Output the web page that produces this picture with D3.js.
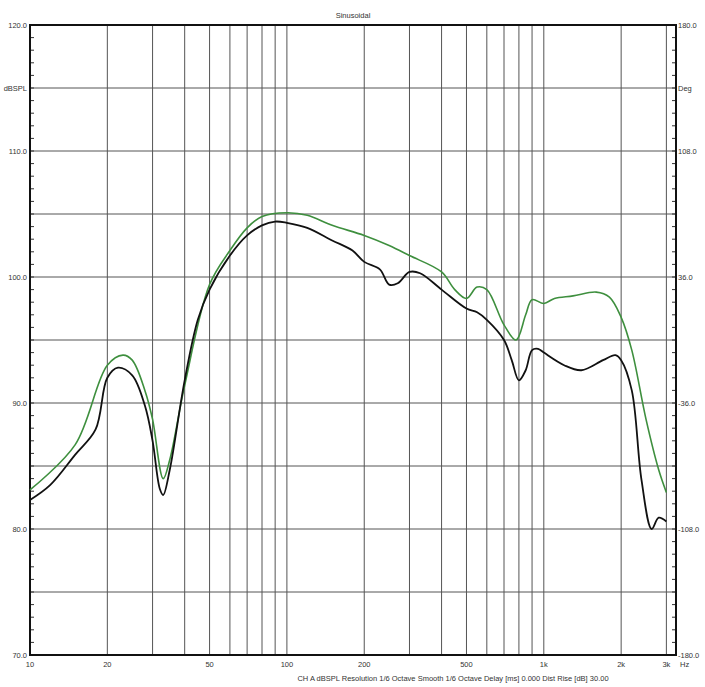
<!DOCTYPE html>
<html>
<head>
<meta charset="utf-8">
<script src="https://cdn.jsdelivr.net/npm/d3@7"></script>
<style>
body { margin: 0; background: #fff; }
text { font-family: "Liberation Sans", Arial, sans-serif; fill: #333; }
</style>
</head>
<body>
<div class="chart"></div>
<script>
// frequency response data
let freqTicks = [10, 20, 50, 100, 200, 500, 1000, 2000, 3000];
let freqLabels = ["10", "20", "50", "100", "200", "500", "1k", "2k", "3k"];
let gridFreqs = [20, 30, 40, 50, 60, 70, 80, 90, 100, 200, 300, 400, 500, 600, 700, 800, 900, 1000, 2000, 3000];
let dbTicks = [70, 80, 90, 100, 110, 120];
let degLabels = ["-180.0", "-108.0", "-36.0", "36.0", "108.0", "180.0"];

let blackFreq = [10, 12, 15, 18, 20, 22, 25, 28, 30, 32, 33, 35, 40, 45, 50, 60, 70, 80, 90, 100, 120, 150, 180, 200, 230, 250, 270, 300, 330, 400, 500, 550, 600, 700, 750, 800, 850, 900, 950, 1000, 1200, 1400, 1700, 1900, 2000, 2200, 2400, 2630, 2800, 3000];
let blackDb = [82.3, 83.5, 85.9, 87.9, 92.0, 92.8, 92.2, 89.8, 87, 83.2, 82.7, 84.7, 91.8, 96.6, 99, 101.7, 103.3, 104.1, 104.4, 104.3, 103.9, 102.9, 102.1, 101.2, 100.6, 99.4, 99.5, 100.4, 100.3, 99, 97.5, 97.2, 96.6, 95, 93.4, 91.8, 92.6, 94.2, 94.3, 94, 93, 92.6, 93.4, 93.8, 93.4, 91, 83.9, 80, 80.9, 80.6];

let greenFreq = [10, 15, 20, 23, 25, 28, 30, 33, 35, 40, 50, 60, 70, 80, 100, 120, 150, 200, 250, 300, 400, 450, 500, 550, 600, 700, 780, 850, 900, 1000, 1100, 1300, 1600, 1800, 2000, 2200, 2500, 2800, 3000];
let greenDb = [83.1, 86.7, 93, 93.8, 93.4, 91, 88.7, 84, 85.5, 91.4, 99.4, 102.1, 103.9, 104.8, 105.1, 104.9, 104.1, 103.3, 102.5, 101.7, 100.4, 99, 98.3, 99.2, 99, 96.2, 95, 97, 98.2, 97.9, 98.3, 98.5, 98.8, 98.4, 96.8, 94.2, 88.7, 84.7, 82.9];

let chart = {};
chart.margin = { top: 25, right: 29, bottom: 32, left: 30 };
chart.width = 705 - chart.margin.left - chart.margin.right;
chart.height = 687 - chart.margin.top - chart.margin.bottom;

chart.svg = d3.select(".chart").append("svg").attr("width", 705).attr("height", 687);
chart.plot = chart.svg.append("g").attr("transform", `translate(${chart.margin.left},${chart.margin.top})`);

chart.x = d3.scaleLog().domain([10, 3270]).range([0, chart.width]);
chart.y = d3.scaleLinear().domain([70, 120]).range([chart.height, 0]);

// vertical grid
chart.plot.selectAll("line.vg").data(gridFreqs).enter().append("line")
    .attr("x1", d => chart.x(d)).attr("x2", d => chart.x(d))
    .attr("y1", 0).attr("y2", chart.height)
    .attr("stroke", "#555").attr("stroke-width", 1);

// horizontal grid every 5 dB
chart.plot.selectAll("line.hg").data(d3.range(75, 120, 5)).enter().append("line")
    .attr("x1", 0).attr("x2", chart.width)
    .attr("y1", d => chart.y(d)).attr("y2", d => chart.y(d))
    .attr("stroke", "#555").attr("stroke-width", 1);

// minor ticks every 1 dB, inside both sides
let minor = d3.range(71, 120, 1);
chart.plot.selectAll("line.tl").data(minor).enter().append("line")
    .attr("x1", 0).attr("x2", 4).attr("y1", d => chart.y(d)).attr("y2", d => chart.y(d))
    .attr("stroke", "#333");
chart.plot.selectAll("line.tr").data(minor).enter().append("line")
    .attr("x1", chart.width - 4).attr("x2", chart.width).attr("y1", d => chart.y(d)).attr("y2", d => chart.y(d))
    .attr("stroke", "#333");

// frame
chart.plot.append("rect").attr("width", chart.width).attr("height", chart.height)
    .attr("fill", "none").attr("stroke", "#111").attr("stroke-width", 2);

// curves
let line = d3.line().x(d => chart.x(d[0])).y(d => chart.y(d[1])).curve(d3.curveCatmullRom);
chart.plot.append("path").datum(d3.zip(greenFreq, greenDb))
    .attr("d", line).attr("fill", "none").attr("stroke", "#3e8f3e").attr("stroke-width", 1.6);
chart.plot.append("path").datum(d3.zip(blackFreq, blackDb))
    .attr("d", line).attr("fill", "none").attr("stroke", "#111").attr("stroke-width", 1.8);

// left labels
chart.plot.selectAll("text.yl").data(dbTicks).enter().append("text")
    .attr("x", -3).attr("y", d => chart.y(d) + 3).attr("text-anchor", "end")
    .attr("font-size", 7.5).text(d => d.toFixed(1));
chart.plot.append("text").attr("x", -3).attr("y", chart.y(115) + 3).attr("text-anchor", "end")
    .attr("font-size", 7.5).text("dBSPL");

// right labels
chart.plot.selectAll("text.yr").data(dbTicks).enter().append("text")
    .attr("x", chart.width + 2).attr("y", d => chart.y(d) + 3)
    .attr("font-size", 7.5).text((d, i) => degLabels[i]);
chart.plot.append("text").attr("x", chart.width + 2).attr("y", chart.y(115) + 3)
    .attr("font-size", 7.5).text("Deg");

// x labels
chart.plot.selectAll("text.xl").data(freqTicks).enter().append("text")
    .attr("x", d => chart.x(d)).attr("y", chart.height + 12).attr("text-anchor", "middle")
    .attr("font-size", 7.5).text((d, i) => freqLabels[i]);
chart.plot.append("text").attr("x", chart.width + 4).attr("y", chart.height + 12)
    .attr("font-size", 7.5).text("Hz");

chart.svg.append("text").attr("x", 353).attr("y", 18).attr("text-anchor", "middle")
    .attr("font-size", 7.5).text("Sinusoidal");
chart.svg.append("text").attr("x", 453).attr("y", 681).attr("text-anchor", "middle")
    .attr("font-size", 7.5)
    .text("CH A   dBSPL   Resolution 1/6 Octave   Smooth 1/6 Octave   Delay [ms] 0.000   Dist Rise [dB] 30.00");
</script>
</body>
</html>
